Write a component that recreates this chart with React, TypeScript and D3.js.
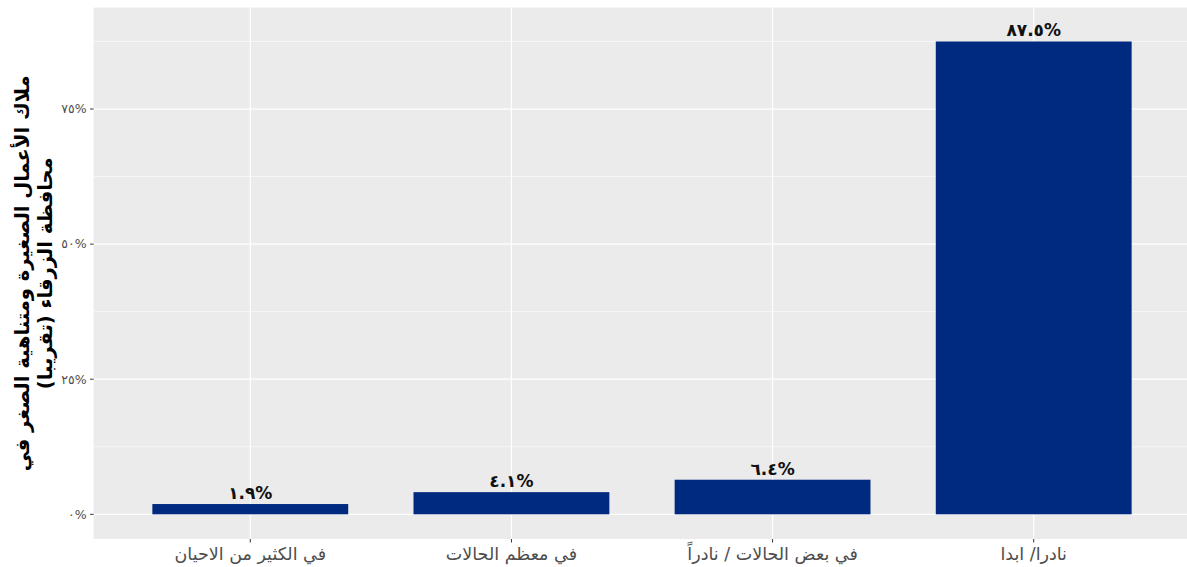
import React from "react";
import * as d3 from "d3";

const categories = [
  "في الكثير من الاحيان",
  "في معظم الحالات",
  "في بعض الحالات / نادراً",
  "نادرا/ ابدا",
];
const values = [1.9, 4.1, 6.4, 87.5];
const valueLabels = ["١.٩%", "٤.١%", "٦.٤%", "٨٧.٥%"];
const yTicks = [0, 25, 50, 75];
const yTickLabels = ["٠%", "٢٥%", "٥٠%", "٧٥%"];
const yMinorTicks = [12.5, 37.5, 62.5, 87.5];
const yTitleLines = ["ملاك الأعمال الصغيرة ومتناهية الصغر في", "محافظة الزرقاء (تقريبا)"];

const W = 1187;
const H = 567;
const panel = { left: 93.6, right: 1190.4, top: 7.6, bottom: 539 };
const FONT = "'DejaVu Sans', 'Noto Sans', sans-serif";

export default function App() {
  const x = d3
    .scaleBand<string>()
    .domain(categories)
    .range([panel.left, panel.right])
    .paddingInner(0.25)
    .paddingOuter(0.225);
  const y = d3.scaleLinear().domain([-4.57, 93.77]).range([panel.bottom, panel.top]);
  const cy = (panel.top + panel.bottom) / 2;

  return (
    <svg
      width={W}
      height={H}
      style={{ position: "absolute", left: 0, top: 0, background: "#fff" }}
      fontFamily={FONT}
    >
      <defs>
        <clipPath id="pc">
          <rect x={panel.left} y={panel.top} width={panel.right - panel.left} height={panel.bottom - panel.top} />
        </clipPath>
      </defs>
      <rect
        x={panel.left}
        y={panel.top}
        width={panel.right - panel.left}
        height={panel.bottom - panel.top}
        fill="#EBEBEB"
      />
      <g clipPath="url(#pc)">
        {yMinorTicks.map((t) => (
          <line key={"mn" + t} x1={panel.left} x2={panel.right} y1={y(t)} y2={y(t)} stroke="#fff" strokeWidth={0.6} />
        ))}
        {yTicks.map((t) => (
          <line key={"mj" + t} x1={panel.left} x2={panel.right} y1={y(t)} y2={y(t)} stroke="#fff" strokeWidth={1.2} />
        ))}
        {categories.map((c) => {
          const cx = (x(c) as number) + x.bandwidth() / 2;
          return <line key={"v" + c} x1={cx} x2={cx} y1={panel.top} y2={panel.bottom} stroke="#fff" strokeWidth={1.2} />;
        })}
        {categories.map((c, i) => (
          <rect
            key={"b" + c}
            x={x(c)}
            y={y(values[i])}
            width={x.bandwidth()}
            height={y(0) - y(values[i])}
            fill="#002A7F"
          />
        ))}
        {categories.map((c, i) => (
          <text
            key={"l" + c}
            x={(x(c) as number) + x.bandwidth() / 2}
            y={y(values[i]) - 5}
            textAnchor="middle"
            fontSize={17}
            fontWeight="bold"
            fill="#111"
          >
            {valueLabels[i]}
          </text>
        ))}
      </g>
      {yTicks.map((t, i) => (
        <g key={"yt" + t}>
          <line x1={panel.left - 3.5} x2={panel.left} y1={y(t)} y2={y(t)} stroke="#333" strokeWidth={1} />
          <text x={panel.left - 7} y={y(t)} dy="0.35em" textAnchor="end" fontSize={12.5} fill="#4D4D4D">
            {yTickLabels[i]}
          </text>
        </g>
      ))}
      {categories.map((c) => {
        const cx = (x(c) as number) + x.bandwidth() / 2;
        return (
          <g key={"xt" + c}>
            <line x1={cx} x2={cx} y1={panel.bottom} y2={panel.bottom + 3.5} stroke="#333" strokeWidth={1} />
            <text x={cx} y={panel.bottom + 21} textAnchor="middle" fontSize={17.5} fill="#4D4D4D">
              {c}
            </text>
          </g>
        );
      })}
      {yTitleLines.map((line, i) => (
        <text
          key={"ytl" + i}
          transform={`translate(${29 + i * 23},${cy}) rotate(-90)`}
          textAnchor="middle"
          fontSize={19.5}
          fontWeight="bold"
          fill="#000"
        >
          {line}
        </text>
      ))}
    </svg>
  );
}
